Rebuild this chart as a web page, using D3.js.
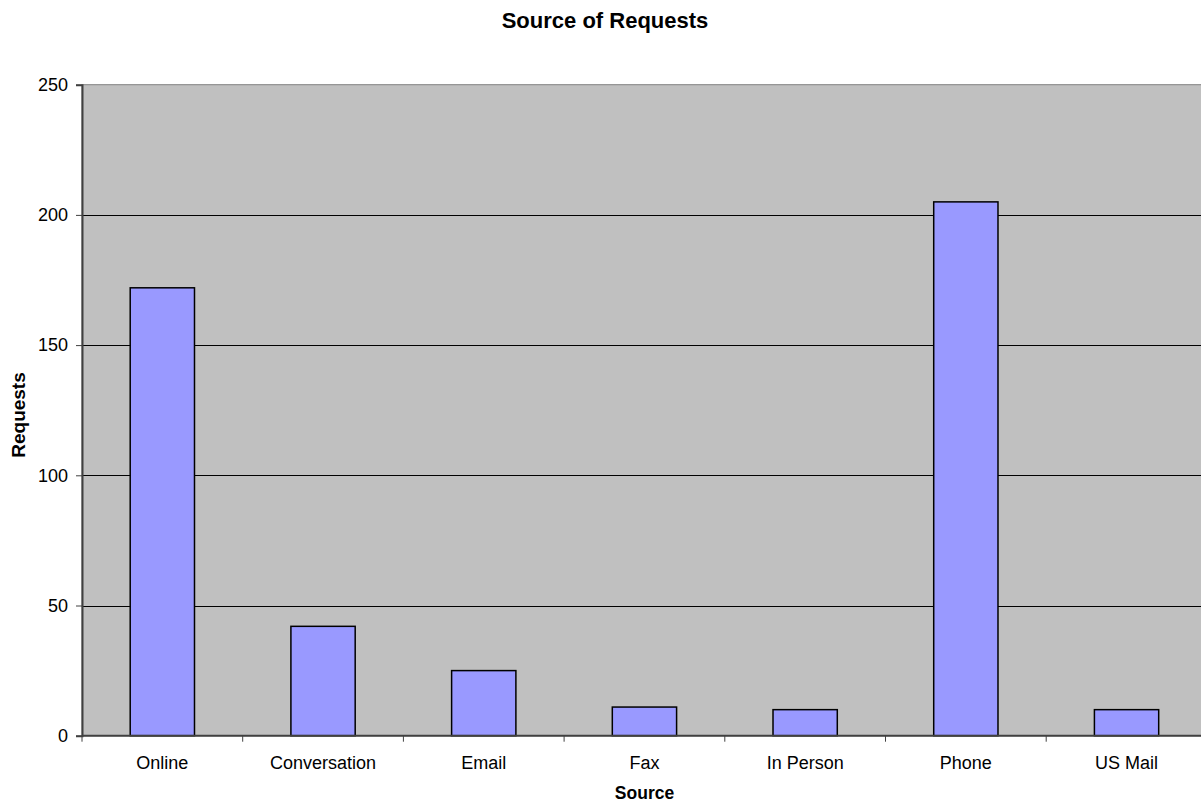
<!DOCTYPE html>
<html><head><meta charset="utf-8">
<script src="https://cdn.jsdelivr.net/npm/d3@7"></script>
<style>body{margin:0;background:#fff;overflow:hidden}svg{display:block;font-family:"Liberation Sans",Arial,sans-serif}</style>
</head><body><svg id="c" width="1201" height="802"></svg>
<script>
const categories = ["Online","Conversation","Email","Fax","In Person","Phone","US Mail"];
const values = [172, 42, 25, 11, 10, 205, 10];
const yTicks = [0, 50, 100, 150, 200, 250];
const title = "Source of Requests";
const xTitle = "Source";
const yTitle = "Requests";

const svg = d3.select("#c");
const L = 82, T = 84.7, B = 735.7, band = 160.7;
const R = L + band * categories.length;

const x = d3.scaleBand().domain(categories).range([L, R]).paddingInner(0.6).paddingOuter(0.3);
const y = d3.scaleLinear().domain([0, 250]).range([B, T]);

svg.append("rect").attr("x", L).attr("y", T).attr("width", R - L).attr("height", B - T)
  .attr("fill", "#c0c0c0").attr("stroke", "#808080").attr("stroke-width", 1);

// gridlines
svg.append("g").selectAll("line").data(yTicks.filter(d => d > 0 && d < 250)).join("line")
  .attr("x1", L).attr("x2", R).attr("y1", d => Math.round(y(d)) + 0.5).attr("y2", d => Math.round(y(d)) + 0.5)
  .attr("stroke", "#000").attr("stroke-width", 1);

// bars
svg.append("g").selectAll("rect").data(categories).join("rect")
  .attr("x", d => x(d)).attr("width", x.bandwidth())
  .attr("y", (d, i) => y(values[i])).attr("height", (d, i) => B - y(values[i]))
  .attr("fill", "#9999ff").attr("stroke", "#000").attr("stroke-width", 1.5);

// y axis
const ya = svg.append("g").attr("transform", `translate(${L},0)`)
  .call(d3.axisLeft(y).tickValues(yTicks).tickSize(6).tickPadding(8).tickFormat(d3.format("d")));
ya.select(".domain").attr("stroke", "#404040").attr("stroke-width", 2);
ya.selectAll(".tick line").attr("stroke", "#404040");
ya.selectAll("text").attr("font-size", 18).attr("fill", "#000").attr("font-family", "Liberation Sans, Arial, sans-serif");

// x axis
const xb = d3.scaleLinear().domain([0, categories.length]).range([L, R]);
const xa = svg.append("g").attr("transform", `translate(0,${B})`);
xa.append("line").attr("x1", L).attr("x2", R).attr("stroke", "#404040").attr("stroke-width", 2);
xa.selectAll(".tk").data(d3.range(categories.length + 1)).join("line")
  .attr("x1", d => xb(d)).attr("x2", d => xb(d)).attr("y1", 0).attr("y2", 6).attr("stroke", "#404040");
xa.selectAll("text").data(categories).join("text")
  .attr("x", d => x(d) + x.bandwidth() / 2).attr("y", 33).attr("text-anchor", "middle")
  .attr("font-size", 18).text(d => d);

svg.append("text").attr("x", 605).attr("y", 28).attr("text-anchor", "middle")
  .attr("font-size", 22).attr("font-weight", "bold").text(title);
svg.append("text").attr("x", 644.5).attr("y", 799).attr("text-anchor", "middle")
  .attr("font-size", 17.5).attr("font-weight", "bold").text(xTitle);
svg.append("text").attr("transform", "translate(25,415) rotate(-90)").attr("text-anchor", "middle")
  .attr("font-size", 19).attr("font-weight", "bold").text(yTitle);
</script></body></html>
